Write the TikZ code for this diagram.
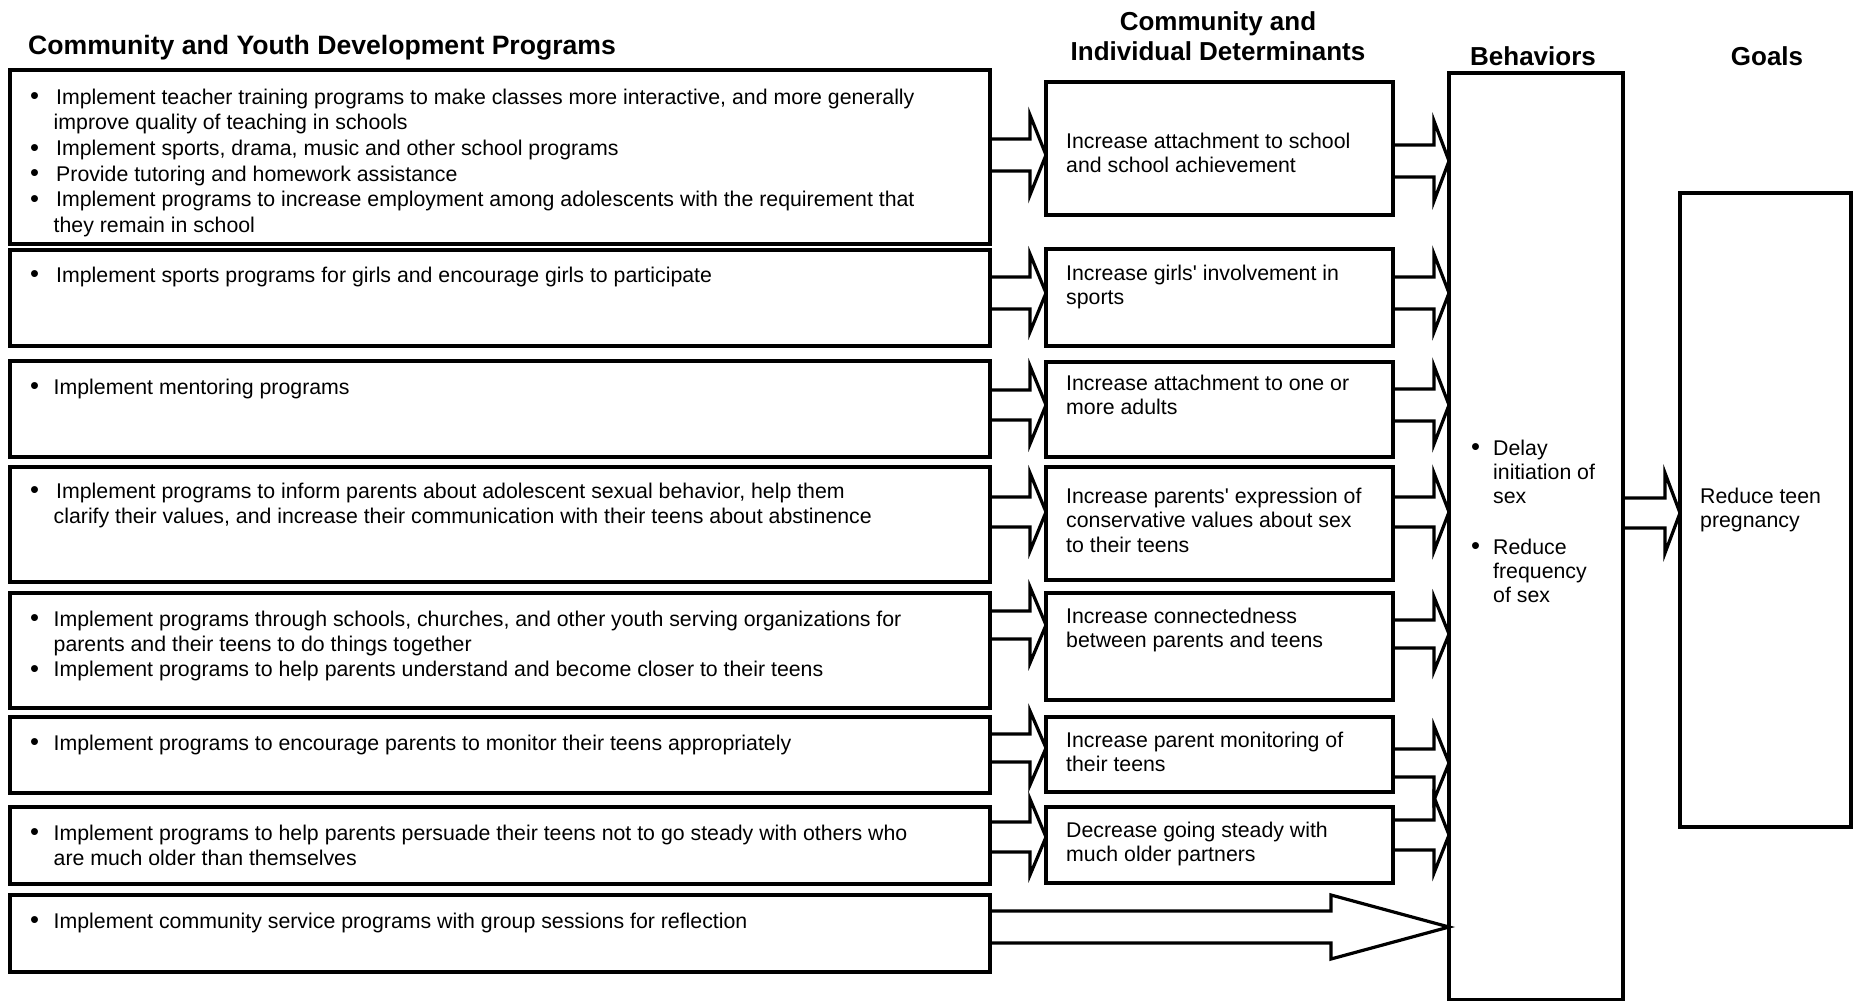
\documentclass[tikz,border=0pt]{standalone}
\usepackage{fontspec}
\usepackage{graphicx}
\setmainfont{Liberation Sans}
\usetikzlibrary{calc}

% bullet for the lists: wide box puts the text after it
\newcommand\bul[1][26pt]{\makebox[#1][l]{\raisebox{-0.6pt}{\scalebox{1.2}{\textbullet}}}}
% indent of a wrapped line under a bullet
\newcommand\cont{\hspace*{23.5pt}}

% open block arrow from the east side of #1 to the west side of #2,
% centred at height #3, shaft half width #4, head half height #5, head length #6
\newcommand\blockarrow[6]{%
  \draw[arrowline]
    ($(#1.east |- 0,#3)+(0,-#4)$) --
    ($(#2.west |- 0,#3)+(-#6,-#4)$) --
    ($(#2.west |- 0,#3)+(-#6,-#5)$) --
    (#2.west |- 0,#3) --
    ($(#2.west |- 0,#3)+(-#6,#5)$) --
    ($(#2.west |- 0,#3)+(-#6,#4)$) --
    ($(#1.east |- 0,#3)+(0,#4)$);}

\tikzset{
  frame/.style={draw, line width=3.3pt, rectangle, inner sep=0pt, outer sep=0pt, anchor=north west},
  arrowline/.style={line width=3.2pt, line join=miter, miter limit=10},
  head/.style={font=\fontsize{26}{30}\selectfont\bfseries, inner sep=0pt},
  ltext/.style={font=\fontsize{21.3}{25.4}\selectfont, inner sep=0pt, anchor=base west},
  rtext/.style={font=\fontsize{21.3}{24.5}\selectfont, inner sep=0pt, anchor=base west},
}

\begin{document}
\begin{tikzpicture}[x=1pt, y=-1pt]
\useasboundingbox (0,0) rectangle (1853,1001);
\fill[white] (0,0) rectangle (1853,1001);

% column headings
\node[head, font=\fontsize{26.6}{30}\selectfont\bfseries, anchor=base west] (hprog) at (28,54) {Community and Youth Development Programs};
\node[head, anchor=base] (hdeta) at (1218,30) {Community and};
\node[head, anchor=base] (hdetb) at (1218,60) {Individual Determinants};
\node[head, anchor=base] (hbeh) at (1533,65) {Behaviors};
\node[head, anchor=base] (hgoal) at (1767,65) {Goals};

% programme boxes
\node[frame, minimum width=980pt, minimum height=174pt] (p1) at (10,70) {};
\node[frame, minimum width=980pt, minimum height=96pt]  (p2) at (10,250) {};
\node[frame, minimum width=980pt, minimum height=96pt]  (p3) at (10,361) {};
\node[frame, minimum width=980pt, minimum height=115pt] (p4) at (10,467) {};
\node[frame, minimum width=980pt, minimum height=115pt] (p5) at (10,593) {};
\node[frame, minimum width=980pt, minimum height=76pt]  (p6) at (10,717) {};
\node[frame, minimum width=980pt, minimum height=77pt]  (p7) at (10,807) {};
\node[frame, minimum width=980pt, minimum height=77pt]  (p8) at (10,895) {};

% determinant boxes
\node[frame, minimum width=347pt, minimum height=133pt] (d1) at (1046,82) {};
\node[frame, minimum width=347pt, minimum height=97pt]  (d2) at (1046,249) {};
\node[frame, minimum width=347pt, minimum height=95pt]  (d3) at (1046,362) {};
\node[frame, minimum width=347pt, minimum height=113pt] (d4) at (1046,467) {};
\node[frame, minimum width=347pt, minimum height=107pt] (d5) at (1046,593) {};
\node[frame, minimum width=347pt, minimum height=75pt]  (d6) at (1046,717) {};
\node[frame, minimum width=347pt, minimum height=76pt]  (d7) at (1046,807) {};

% behaviours and goal
\node[frame, minimum width=174pt, minimum height=927pt] (b) at (1449,73) {};
\node[frame, minimum width=171pt, minimum height=634pt] (g) at (1680,193) {};

% programme texts
\node[ltext, font=\fontsize{21.3}{25.7}\selectfont] (p1t) at (30,104) {\begin{tabular}[t]{@{}l@{}}
\bul Implement teacher training programs to make classes more interactive, and more generally\\
\cont improve quality of teaching in schools\\
\bul Implement sports, drama, music and other school programs\\
\bul Provide tutoring and homework assistance\\
\bul Implement programs to increase employment among adolescents with the requirement that\\
\cont they remain in school
\end{tabular}};
\node[ltext] (p2t) at (30,282) {\begin{tabular}[t]{@{}l@{}}
\bul Implement sports programs for girls and encourage girls to participate
\end{tabular}};
\node[ltext] (p3t) at (30,394) {\begin{tabular}[t]{@{}l@{}}
\bul[23.5pt]Implement mentoring programs
\end{tabular}};
\node[ltext] (p4t) at (30,498) {\begin{tabular}[t]{@{}l@{}}
\bul Implement programs to inform parents about adolescent sexual behavior, help them\\
\cont clarify their values, and increase their communication with their teens about abstinence
\end{tabular}};
\node[ltext] (p5t) at (30,626) {\begin{tabular}[t]{@{}l@{}}
\bul[23.5pt]Implement programs through schools, churches, and other youth serving organizations for\\
\cont parents and their teens to do things together\\
\bul[23.5pt]Implement programs to help parents understand and become closer to their teens
\end{tabular}};
\node[ltext] (p6t) at (30,750) {\begin{tabular}[t]{@{}l@{}}
\bul[23.5pt]Implement programs to encourage parents to monitor their teens appropriately
\end{tabular}};
\node[ltext] (p7t) at (30,840) {\begin{tabular}[t]{@{}l@{}}
\bul[23.5pt]Implement programs to help parents persuade their teens not to go steady with others who\\
\cont are much older than themselves
\end{tabular}};
\node[ltext] (p8t) at (30,928) {\begin{tabular}[t]{@{}l@{}}
\bul[23.5pt]Implement community service programs with group sessions for reflection
\end{tabular}};

% determinant texts
\node[rtext] (d1t) at (1066,148) {\begin{tabular}[t]{@{}l@{}}Increase attachment to school\\and school achievement\end{tabular}};
\node[rtext] (d2t) at (1066,280) {\begin{tabular}[t]{@{}l@{}}Increase girls\textquotesingle{} involvement in\\sports\end{tabular}};
\node[rtext] (d3t) at (1066,390) {\begin{tabular}[t]{@{}l@{}}Increase attachment to one or\\more adults\end{tabular}};
\node[rtext] (d4t) at (1066,503) {\begin{tabular}[t]{@{}l@{}}Increase parents\textquotesingle{} expression of\\conservative values about sex\\to their teens\end{tabular}};
\node[rtext] (d5t) at (1066,623) {\begin{tabular}[t]{@{}l@{}}Increase connectedness\\between parents and teens\end{tabular}};
\node[rtext] (d6t) at (1066,747) {\begin{tabular}[t]{@{}l@{}}Increase parent monitoring of\\their teens\end{tabular}};
\node[rtext] (d7t) at (1066,837) {\begin{tabular}[t]{@{}l@{}}Decrease going steady with\\much older partners\end{tabular}};

% behaviour and goal texts
\node[rtext, font=\fontsize{21.3}{24}\selectfont] (bt) at (1471,455) {\begin{tabular}[t]{@{}l@{}}
\bul[22pt]Delay\\ \hspace*{22pt}initiation of\\ \hspace*{22pt}sex\\[27pt]
\bul[22pt]Reduce\\ \hspace*{22pt}frequency\\ \hspace*{22pt}of sex
\end{tabular}};
\node[rtext] (gt) at (1700,503) {\begin{tabular}[t]{@{}l@{}}Reduce teen\\pregnancy\end{tabular}};

% programmes to determinants
\blockarrow{p1}{d1}{155}{16}{40}{16}
\blockarrow{p2}{d2}{293}{16}{39}{16}
\blockarrow{p3}{d3}{405}{15}{39}{16}
\blockarrow{p4}{d4}{512}{15}{39}{16}
\blockarrow{p5}{d5}{625}{14}{38}{16}
\blockarrow{p6}{d6}{748}{14}{37}{16}
\blockarrow{p7}{d7}{837}{15}{38}{16}
% determinants to behaviours
\blockarrow{d1}{b}{161}{16}{40}{15}
\blockarrow{d2}{b}{293}{16}{39}{15}
\blockarrow{d3}{b}{405}{16}{39}{15}
\blockarrow{d4}{b}{512}{15}{39}{15}
\blockarrow{d5}{b}{634}{14}{37}{15}
\blockarrow{d6}{b}{763}{14}{37}{15}
\blockarrow{d7}{b}{835}{15}{38}{15}
% community service straight to behaviours
\blockarrow{p8}{b}{927}{16}{32}{118}
% behaviours to goal
\blockarrow{b}{g}{513}{15}{40}{15}
\end{tikzpicture}
\end{document}
